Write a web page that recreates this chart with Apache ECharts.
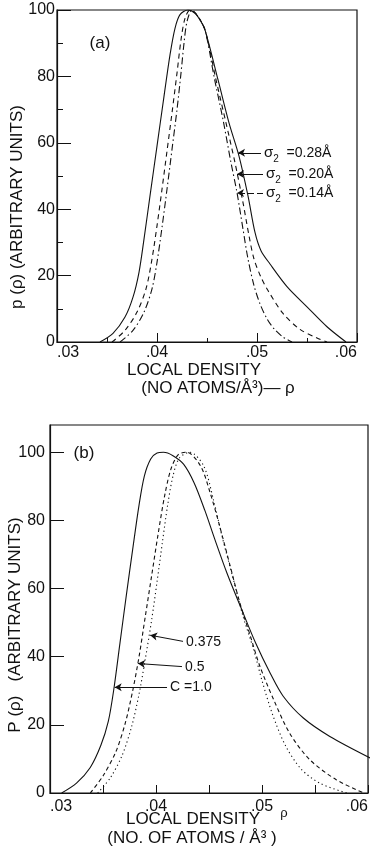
<!DOCTYPE html>
<html>
<head>
<meta charset="utf-8">
<script src="https://cdn.jsdelivr.net/npm/echarts@6/dist/echarts.min.js"></script>
<style>html,body{margin:0;padding:0;background:#fff}#c{width:371px;height:852px}</style>
</head>
<body>
<div id="c"></div>
<script>
// ---- Panel (a): P(rho) for three sigma_2 values ----
const sigmaA028 = [[.0343,0],[.0356,2.6],[.0368,7.5],[.0376,13.5],[.0382,21],[.0387,31],[.0393,44],[.0400,59],[.0407,74],[.0413,86.5],[.0418,94.5],[.0423,98.6],[.0431,100],[.0438,99],[.0443,97],[.0448,94],[.0461,79],[.0472,66],[.0482,56],[.0491,44],[.0498,33],[.0504,27.5],[.0513,23.5],[.0530,16.7],[.0550,10.6],[.0570,4.6],[.0589,0]];
const sigmaA020 = [[.0355,0],[.0368,3.5],[.0380,9],[.0389,16],[.0395,25],[.0400,35],[.0405,46],[.0410,57.5],[.0415,69],[.0420,81],[.0424,91],[.0428,97.5],[.0433,100],[.0440,98.5],[.0448,94],[.0459,79],[.0469,66],[.0478,54],[.0486,42],[.0492,32],[.0497,25],[.0504,19.5],[.0511,15.5],[.0526,8.6],[.0543,3.8],[.0560,1.2],[.0570,0]];
const sigmaA014 = [[.0363,0],[.0376,3.5],[.0387,9],[.0395,16],[.0400,24],[.0405,34.5],[.0410,46],[.0415,58],[.0420,70],[.0424,81],[.0427,90],[.0430,96.5],[.0435,100],[.0441,98],[.0448,94],[.0457,80],[.0466,67],[.0474,54],[.0480,45],[.0486,34],[.0491,25],[.0497,17],[.0503,11.5],[.0510,7],[.0517,4],[.0526,1.5],[.0535,0]];
const labelsA = ['{s|σ}{sub|2}  =0.28Å', '{s|σ}{sub|2}  =0.20Å', '{s|σ}{sub|2}  =0.14Å'];
// arrow [tail x, tail y, head x, head y] in data units
const arrowsA = [[.0504,57,.0481,57],[.0506,50.6,.0480,50.6],[.0506,44.9,.0480,44.9]];

// ---- Panel (b): P(rho) for three C values ----
const cB10 = [[.0311,0],[.0325,2.9],[.0338,7.5],[.0348,14],[.0355,21],[.0360,30],[.0366,44],[.0372,58],[.0378,71.5],[.0384,84.5],[.0389,93],[.0395,98],[.0401,99.8],[.0407,100],[.0416,99],[.0426,96.5],[.0436,91],[.0446,83],[.0456,74],[.0467,64.5],[.0480,54.5],[.0494,44],[.0508,35],[.0520,28.4],[.0539,22],[.0564,16.6],[.0602,10.3]];
const cB05 = [[.0338,0],[.0350,5],[.0362,12],[.0371,20.5],[.0378,30],[.0384,40],[.0390,52],[.0396,64],[.0402,76],[.0408,87],[.0414,95],[.0421,99.3],[.0429,100],[.0442,96],[.0451,88.2],[.0460,78.4],[.0470,66.6],[.0479,55.9],[.0489,46.1],[.0498,37.2],[.0511,27.4],[.0526,17.6],[.0545,9.8],[.0570,3.9],[.0596,0]];
const cB0375 = [[.0345,0],[.0357,4.5],[.0368,11],[.0377,19.5],[.0384,29],[.0390,39.5],[.0396,51],[.0401,62],[.0406,73.5],[.0411,84.5],[.0416,93],[.0422,98.3],[.0432,100],[.0445,96],[.0454,86.3],[.0463,74.5],[.0473,62.7],[.0482,52],[.0492,42.2],[.0500,33],[.0510,23],[.0522,14],[.0537,7],[.0555,2.8],[.0580,0]];
const labelsB = ['0.375', '0.5', 'C =1.0'];
const arrowsB = [[.04255,44.5,.03945,46.3],[.04245,37.1,.03830,38.0],[.04104,31.0,.03610,31.0]];

const xTicks = [.03,.04,.05,.06];
const yTicks = [0,20,40,60,80,100];

const FONT = 'Liberation Sans, Arial, sans-serif';
const INK = '#111';

function arrowLine(a, txt) {
  return [
    {coord:[a[0],a[1]], label:{formatter: txt}},
    {coord:[a[2],a[3]]}
  ];
}
function markLines(arrows, labels, dash) {
  return {
    silent: true,
    symbol: ['none','arrow'],
    symbolSize: [6,7],
    lineStyle: {color: INK, width: 1, type: dash || 'solid'},
    label: {show: true, position: 'start', distance: 3, color: INK, fontFamily: FONT, fontSize: 14,
      rich: {
        s: {fontSize: 15, fontFamily: FONT, color: INK, lineHeight: 22, verticalAlign: 'middle'},
        sub: {fontSize: 10, fontFamily: FONT, color: INK, lineHeight: 22, verticalAlign: 'bottom'}
      }},
    data: arrows.map((a,i) => arrowLine(a, labels[i]))
  };
}
function series(data, xi, dash, extra) {
  return Object.assign({
    type: 'line', xAxisIndex: xi, yAxisIndex: xi, data: data,
    showSymbol: false, smooth: 0.3,
    lineStyle: {color: INK, width: 1.1, type: dash}
  }, extra || {});
}
const xLabFmt = v => '.0' + Math.round(v*100);

const chart = echarts.init(document.getElementById('c'), null, {renderer: 'canvas'});
chart.setOption({
  animation: false,
  backgroundColor: '#fff',
  grid: [
    {left: 57, top: 10, width: 300, height: 332, show: true, borderColor: INK, borderWidth: 1.2, backgroundColor: 'transparent'},
    {left: 50, top: 425, width: 318, height: 368, show: true, borderColor: INK, borderWidth: 1.2, backgroundColor: 'transparent'}
  ],
  xAxis: [
    {gridIndex: 0, type: 'value', min: xTicks[0], max: xTicks[3], interval: .01,
     axisLine: {lineStyle: {color: INK, width: 1.2}},
     axisTick: {inside: true, length: 9, lineStyle: {color: INK}},
     minorTick: {show: true, splitNumber: 2, length: 4, lineStyle: {color: INK}},
     splitLine: {show: false},
     axisLabel: {formatter: xLabFmt, color: INK, fontFamily: FONT, fontSize: 16, margin: 3, alignMinLabel: 'left', alignMaxLabel: 'right'}},
    {gridIndex: 1, type: 'value', min: xTicks[0], max: xTicks[3], interval: .01,
     axisLine: {lineStyle: {color: INK, width: 1.2}},
     axisTick: {inside: true, length: 8, lineStyle: {color: INK}},
     minorTick: {show: true, splitNumber: 2, length: 8, lineStyle: {color: INK}},
     splitLine: {show: false},
     axisLabel: {formatter: xLabFmt, color: INK, fontFamily: FONT, fontSize: 16, margin: 6, alignMinLabel: 'left', alignMaxLabel: 'right'}}
  ],
  yAxis: [
    {gridIndex: 0, type: 'value', min: yTicks[0], max: yTicks[5], interval: 20,
     axisLine: {show: true, lineStyle: {color: INK, width: 1.2}},
     axisTick: {show: true, inside: true, length: 14, lineStyle: {color: INK}},
     minorTick: {show: true, splitNumber: 2, length: 6, lineStyle: {color: INK}},
     splitLine: {show: false},
     axisLabel: {color: INK, fontFamily: FONT, fontSize: 16, margin: 2}},
    {gridIndex: 1, type: 'value', min: yTicks[0], max: 108, interval: 20,
     axisLine: {show: true, lineStyle: {color: INK, width: 1.2}},
     axisTick: {show: true, inside: true, length: 14, lineStyle: {color: INK}},
     splitLine: {show: false},
     axisLabel: {color: INK, fontFamily: FONT, fontSize: 16, margin: 5, showMaxLabel: false}}
  ],
  series: [
    series(sigmaA028, 0, 'solid', {markLine: markLines([arrowsA[0]], [labelsA[0]])}),
    series(sigmaA020, 0, [5,4], {markLine: markLines([arrowsA[1]], [labelsA[1]])}),
    series(sigmaA014, 0, [7,3,1.5,3], {markLine: markLines([arrowsA[2]], [labelsA[2]], [6,3])}),
    series(cB10, 1, 'solid', {markLine: markLines([arrowsB[2]], [labelsB[2]])}),
    series(cB05, 1, [4,3], {markLine: markLines([arrowsB[1]], [labelsB[1]])}),
    series(cB0375, 1, [1.2,3], {markLine: markLines([arrowsB[0]], [labelsB[0]])})
  ],
  graphic: [
    {type: 'text', x: 100, y: 43, style: {text: '(a)', fontSize: 17, fontFamily: FONT, fill: INK, align: 'center', verticalAlign: 'middle'}},
    {type: 'text', x: 84, y: 453, style: {text: '(b)', fontSize: 17, fontFamily: FONT, fill: INK, align: 'center', verticalAlign: 'middle'}},
    {type: 'text', x: 17, y: 207, rotation: Math.PI/2, style: {text: 'p (ρ) (ARBITRARY UNITS)', fontSize: 17, fontFamily: FONT, fill: INK, align: 'center', verticalAlign: 'middle'}},
    {type: 'text', x: 15, y: 625, rotation: Math.PI/2, style: {text: 'P (ρ)   (ARBITRARY UNITS)', fontSize: 17, fontFamily: FONT, fill: INK, align: 'center', verticalAlign: 'middle'}},
    {type: 'text', x: 194, y: 370, style: {text: 'LOCAL DENSITY', fontSize: 17, fontFamily: FONT, fill: INK, align: 'center', verticalAlign: 'middle'}},
    {type: 'text', x: 218, y: 388, style: {text: '(NO ATOMS/Å³)— ρ', fontSize: 17, fontFamily: FONT, fill: INK, align: 'center', verticalAlign: 'middle'}},
    {type: 'text', x: 193, y: 819, style: {text: 'LOCAL DENSITY', fontSize: 17, fontFamily: FONT, fill: INK, align: 'center', verticalAlign: 'middle'}},
    {type: 'text', x: 284, y: 813, style: {text: 'ρ', fontSize: 13, fontFamily: FONT, fill: INK, align: 'center', verticalAlign: 'middle'}},
    {type: 'text', x: 192, y: 838, style: {text: '(NO. OF ATOMS / Å³ )', fontSize: 17, fontFamily: FONT, fill: INK, align: 'center', verticalAlign: 'middle'}}
  ]
});
</script>
</body>
</html>
